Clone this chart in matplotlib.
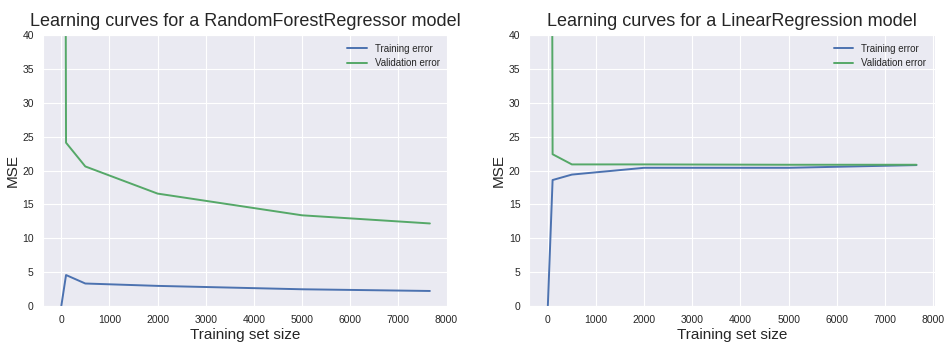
import matplotlib
matplotlib.use("Agg")
import matplotlib.pyplot as plt
import seaborn as sns

train_sizes = [1, 100, 500, 2000, 5000, 7654]
rf_train = [0.0, 4.6, 3.35, 3.0, 2.5, 2.25]
rf_val = [300.0, 24.1, 20.6, 16.6, 13.4, 12.2]
lr_train = [0.0, 18.6, 19.4, 20.4, 20.4, 20.8]
lr_val = [300.0, 22.4, 20.9, 20.9, 20.85, 20.85]
titles = ["Learning curves for a RandomForestRegressor model",
          "Learning curves for a LinearRegression model"]

sns.set_style("darkgrid")
plt.rcParams['font.family'] = ['Liberation Sans', 'DejaVu Sans']

fig, axes = plt.subplots(1, 2, figsize=(9.52, 3.48), dpi=100)
data = [(rf_train, rf_val), (lr_train, lr_val)]
for ax, (tr, va), t in zip(axes, data, titles):
    ax.plot(train_sizes, tr, color="#4C72B0", lw=1.4, label="Training error")
    ax.plot(train_sizes, va, color="#55A868", lw=1.4, label="Validation error")
    ax.set_ylim(0, 40)
    ax.set_title(t, fontsize=13, color="#262626")
    ax.set_xlabel("Training set size", fontsize=11, color="#262626", labelpad=2)
    ax.set_ylabel("MSE", fontsize=11, color="#262626", labelpad=2)
    ax.tick_params(labelsize=7.5, colors="#262626", pad=3)
    ax.legend(loc="upper right", fontsize=7, frameon=False)

fig.subplots_adjust(left=0.045, right=0.982, bottom=0.12, top=0.9, wspace=0.2)
fig.savefig("out.png", dpi=100)
